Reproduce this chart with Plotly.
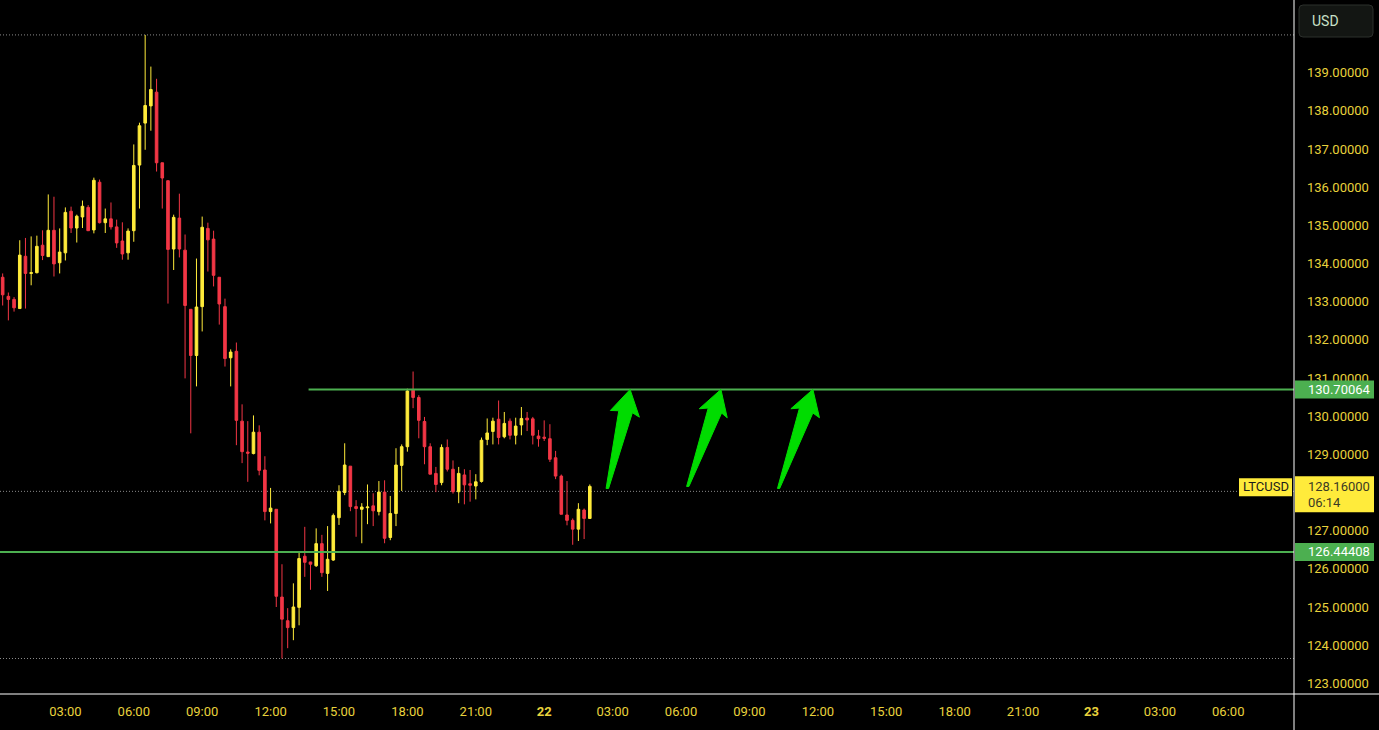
import plotly.graph_objects as go
import pandas as pd

# ---------------- data ----------------
DAY1, DAY2, DAY3 = "2025-01-21", "2025-01-22", "2025-01-23"

candle_times = pd.date_range(f"{DAY1} 00:15", periods=104, freq="15min")

opens = [133.64, 133.14, 133.06, 132.82, 134.19, 133.74, 133.76, 134.48, 134.18, 134.87,
         134.02, 134.28, 135.37, 134.93, 135.22, 135.47, 134.88, 136.13, 135.07, 135.17,
         134.96, 134.59, 134.28, 134.86, 136.58, 137.68, 138.13, 138.49, 136.64, 136.17,
         134.38, 135.19, 134.35, 132.80, 131.59, 132.87, 134.92, 134.64, 133.64, 132.87,
         131.53, 131.70, 129.87, 129.06, 129.02, 129.58, 128.59, 127.50, 127.56, 125.26,
         124.64, 124.46, 124.99, 126.33, 126.18, 126.08, 126.66, 125.88, 126.23, 127.34,
         128.00, 128.69, 127.63, 127.56, 127.60, 127.65, 127.50, 128.01, 126.82, 127.45,
         128.71, 129.20, 130.68, 130.49, 129.86, 129.20, 128.50, 128.26, 129.18, 128.61,
         128.02, 128.46, 128.23, 128.17, 128.29, 129.39, 129.60, 129.92, 129.46, 129.87,
         129.50, 129.77, 129.95, 129.93, 129.48, 129.45, 129.41, 128.91, 128.43, 127.41,
         127.27, 127.04, 127.54, 127.32]
highs = [133.74, 133.24, 133.12, 134.61, 134.67, 134.71, 134.73, 134.87, 135.81, 135.75,
         134.92, 135.47, 135.49, 135.28, 135.65, 135.53, 136.25, 136.20, 135.44, 135.60,
         135.15, 135.08, 134.92, 137.12, 137.69, 139.99, 139.16, 138.84, 136.64, 136.17,
         135.28, 135.83, 134.76, 132.80, 134.13, 135.23, 135.07, 134.86, 133.64, 133.08,
         131.75, 131.93, 130.31, 129.87, 130.02, 129.76, 128.95, 128.12, 127.56, 126.12,
         124.97, 125.62, 126.43, 127.10, 126.18, 127.06, 126.89, 127.12, 127.45, 128.19,
         129.29, 128.69, 127.80, 127.72, 128.21, 127.98, 128.30, 128.32, 127.91, 129.16,
         129.26, 130.72, 131.17, 130.55, 129.98, 129.29, 128.67, 129.26, 129.39, 128.84,
         128.67, 128.61, 128.59, 128.48, 129.44, 129.94, 129.96, 130.41, 130.11, 129.94,
         129.96, 130.24, 130.11, 129.98, 129.64, 129.89, 129.79, 129.09, 128.47, 128.30,
         127.32, 127.72, 127.58, 128.21]
lows = [132.90, 132.51, 132.74, 132.82, 132.82, 133.43, 133.74, 134.09, 134.18, 133.66,
        133.74, 134.08, 134.80, 134.55, 134.93, 134.86, 134.79, 135.05, 134.80, 134.89,
        134.41, 134.10, 134.10, 134.57, 135.44, 136.98, 137.48, 136.41, 135.44, 132.95,
        133.83, 134.16, 130.99, 129.55, 130.78, 132.22, 133.79, 133.40, 132.40, 131.30,
        130.78, 129.24, 128.77, 128.28, 129.00, 128.45, 127.27, 127.19, 125.00, 123.65,
        123.92, 124.13, 124.52, 125.79, 125.45, 126.05, 125.79, 125.42, 126.21, 127.15,
        127.93, 127.51, 126.84, 126.67, 127.17, 127.12, 127.40, 126.67, 126.75, 127.12,
        128.04, 129.07, 130.21, 129.42, 128.74, 128.48, 128.01, 128.19, 128.55, 127.97,
        127.72, 127.69, 127.76, 127.82, 128.26, 129.24, 129.26, 129.26, 129.42, 129.39,
        129.26, 129.50, 129.61, 129.26, 129.20, 129.35, 128.80, 128.35, 127.43, 127.14,
        126.63, 126.73, 126.78, 127.32]
closes = [133.18, 133.06, 132.84, 134.22, 133.74, 133.76, 134.45, 134.21, 134.87, 133.99,
          134.30, 135.34, 134.93, 135.24, 135.50, 134.86, 136.18, 135.07, 135.17, 134.96,
          134.54, 134.25, 134.85, 136.57, 137.61, 138.14, 138.56, 136.64, 136.24, 134.37,
          135.21, 134.38, 132.90, 131.59, 132.86, 134.95, 134.62, 133.69, 132.94, 131.51,
          131.68, 129.89, 129.07, 129.03, 129.58, 128.58, 127.50, 127.59, 125.28, 124.68,
          124.46, 125.00, 126.27, 126.17, 126.12, 126.66, 125.90, 126.25, 127.40, 128.03,
          128.72, 127.63, 127.58, 127.62, 127.62, 127.52, 128.01, 126.80, 127.45, 128.72,
          129.20, 130.66, 130.49, 129.89, 129.20, 128.48, 128.21, 129.18, 128.61, 128.02,
          128.50, 128.20, 128.19, 128.28, 129.37, 129.56, 129.87, 129.44, 129.81, 129.50,
          129.74, 129.94, 129.90, 129.50, 129.41, 129.42, 128.87, 128.43, 127.43, 127.27,
          127.04, 127.56, 127.32, 128.16]

symbol = "LTCUSD"
currency = "USD"
resistance = 130.70064
support = 126.44408
resistance_start = f"{DAY1} 13:40"
last_price = 128.16
price_line = 128.03
countdown = "06:14"
range_high = 139.99
range_low = 123.65

x_range = [f"{DAY1} 00:08", f"{DAY3} 08:53"]
y_range = [122.72, 140.905]
ytick_values = [123, 124, 125, 126, 127, 129, 130, 131, 132, 133, 134, 135, 136, 137, 138, 139]
xtick_times = pd.date_range(f"{DAY1} 03:00", periods=18, freq="3h")
xtick_labels = ["03:00", "06:00", "09:00", "12:00", "15:00", "18:00", "21:00", "<b>22</b>",
                "03:00", "06:00", "09:00", "12:00", "15:00", "18:00", "21:00", "<b>23</b>",
                "03:00", "06:00"]

arrow_tip_times = [f"{DAY2} 03:46", f"{DAY2} 07:45", f"{DAY2} 11:47"]
arrow_tip_prices = [130.70, 130.70, 130.70]

# ---------------- style / geometry ----------------
W, H = 1379, 730
PLOT_R, PLOT_B = 1294, 694
UP, DOWN = "#FFEB3B", "#F23645"
TXT_Y = "#E8D23C"
GREEN = "#4CAF50"
ARROW = "#00DC00"
FONT = "Roboto"


def px(x):
    return x / PLOT_R


def py(y):
    return (PLOT_B - y) / PLOT_B


fig = go.Figure()
fig.add_trace(go.Candlestick(
    x=candle_times, open=opens, high=highs, low=lows, close=closes,
    increasing=dict(line=dict(color=UP, width=1), fillcolor=UP),
    decreasing=dict(line=dict(color=DOWN, width=1), fillcolor=DOWN),
    whiskerwidth=0, hoverinfo="skip", showlegend=False,
))

shapes = []
# dotted range / price lines
for lvl in (range_high, range_low, price_line):
    shapes.append(dict(type="line", xref="paper", yref="y", x0=0, x1=1, y0=lvl, y1=lvl,
                       line=dict(color="#8A8A8A", width=1, dash="1px,2px"), layer="below"))
# support / resistance
shapes.append(dict(type="line", xref="paper", yref="y", x0=0, x1=1, y0=support, y1=support,
                   line=dict(color=GREEN, width=2)))
shapes.append(dict(type="line", xref="x", yref="y", x0=resistance_start, x1=x_range[1],
                   y0=resistance, y1=resistance, line=dict(color=GREEN, width=2)))

# arrows (pixel offsets from the tip, y up)
arrow_shapes = [
    [(-24, -99), (-11.3, -21.3), (-19.7, -21), (0, 0), (9.3, -27.7), (2.3, -23.3), (-21.5, -99)],
    [(-34.3, -97), (-12.7, -18.6), (-21.7, -19.3), (0, 0), (6.3, -28.3), (0.7, -23.6), (-32, -97)],
    [(-35.4, -99), (-13.4, -18.6), (-22, -19.3), (0, 0), (6.6, -28.3), (0, -23.6), (-33.2, -99)],
]
for t, p, pts in zip(arrow_tip_times, arrow_tip_prices, arrow_shapes):
    path = "M " + " L ".join(f"{a},{b}" for a, b in pts) + " Z"
    shapes.append(dict(type="path", xref="x", yref="y", xsizemode="pixel", ysizemode="pixel",
                       xanchor=t, yanchor=p, path=path, fillcolor=ARROW,
                       line=dict(color=ARROW, width=1)))

# axis lines
shapes.append(dict(type="line", xref="paper", yref="paper", x0=1, x1=1, y0=py(H), y1=1,
                   line=dict(color="#FFFFFF", width=1)))
shapes.append(dict(type="line", xref="paper", yref="paper", x0=0, x1=px(W), y0=0, y1=0,
                   line=dict(color="#FFFFFF", width=1)))

# price-scale labels
for lvl in (resistance, support):
    shapes.append(dict(type="rect", xref="paper", yref="y", ysizemode="pixel", yanchor=lvl,
                       x0=px(1295), x1=px(1374), y0=-9, y1=9, fillcolor=GREEN, line=dict(width=0)))
shapes.append(dict(type="rect", xref="paper", yref="y", ysizemode="pixel", yanchor=last_price,
                   x0=px(1295), x1=px(1374), y0=-25.8, y1=10.2, fillcolor=UP, line=dict(width=0)))
shapes.append(dict(type="rect", xref="paper", yref="y", ysizemode="pixel", yanchor=last_price,
                   x0=px(1239), x1=px(1292), y0=-9.8, y1=8.2, fillcolor=UP, line=dict(width=0)))
# currency box
shapes.append(dict(type="path", xref="paper", yref="paper", xsizemode="pixel", ysizemode="pixel",
                   xanchor=px(1299), yanchor=py(37),
                   path="M 4,0 L 70,0 Q 74,0 74,4 L 74,28 Q 74,32 70,32 L 4,32 Q 0,32 0,28 L 0,4 Q 0,0 4,0 Z",
                   fillcolor="#131613", line=dict(color="#2C302C", width=1)))

annotations = []
for lvl in (resistance, support):
    annotations.append(dict(xref="paper", yref="y", x=px(1306), y=lvl, xanchor="left", yanchor="middle",
                            text=f"{lvl:.5f}", showarrow=False,
                            font=dict(family=FONT, size=13, color="#FFFFFF")))
annotations.append(dict(xref="paper", yref="y", x=px(1306), y=last_price, xanchor="left", yanchor="middle",
                        text=f"{last_price:.5f}", showarrow=False,
                        font=dict(family=FONT, size=13, color="#3A3A24")))
annotations.append(dict(xref="paper", yref="y", x=px(1306), y=last_price, xanchor="left", yanchor="middle",
                        yshift=-16, text=countdown, showarrow=False,
                        font=dict(family=FONT, size=13, color="#3A3A24")))
annotations.append(dict(xref="paper", yref="y", x=px(1265.5), y=last_price, xanchor="center", yanchor="middle",
                        text=symbol, showarrow=False,
                        font=dict(family=FONT, size=13, color="#1A1A1A")))
annotations.append(dict(xref="paper", yref="paper", x=px(1310), y=py(21), xanchor="left", yanchor="middle",
                        text=currency, showarrow=False,
                        font=dict(family=FONT, size=14, color="#C8E0C8")))

fig.update_layout(
    width=W, height=H, autosize=False,
    margin=dict(l=0, r=W - PLOT_R, t=0, b=H - PLOT_B, pad=0),
    paper_bgcolor="#000000", plot_bgcolor="#000000",
    showlegend=False, hovermode=False, boxgap=0.35,
    shapes=shapes, annotations=annotations,
    xaxis=dict(type="date", range=x_range, rangeslider=dict(visible=False),
               showgrid=False, zeroline=False, showline=False, ticks="",
               tickvals=xtick_times, ticktext=xtick_labels, ticklabelstandoff=8,
               tickfont=dict(family=FONT, size=13, color=TXT_Y)),
    yaxis=dict(range=y_range, side="right", showgrid=False, zeroline=False, showline=False,
               ticks="", tickvals=ytick_values, ticktext=[f"{v:.5f}" for v in ytick_values],
               ticklabelstandoff=12, tickfont=dict(family=FONT, size=13, color=TXT_Y)),
)

fig.write_html("out.html", config={"displayModeBar": False},
               post_script="document.body.style.margin='0px';document.body.style.background='#000';")
